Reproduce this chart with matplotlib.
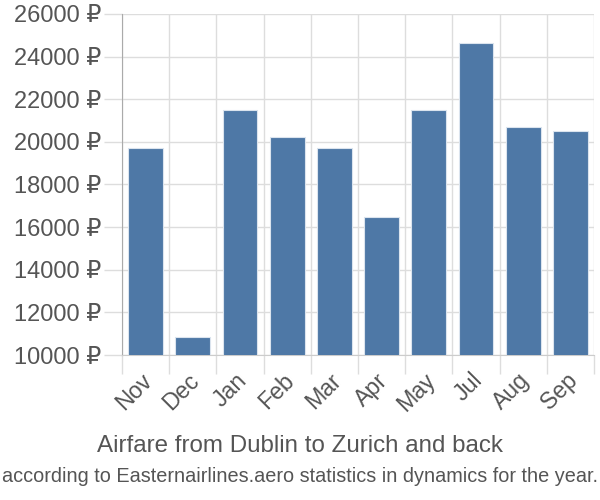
import matplotlib
matplotlib.use("Agg")
import matplotlib.pyplot as plt
import matplotlib.transforms as mtransforms
import numpy as np

months = ["Nov", "Dec", "Jan", "Feb", "Mar", "Apr", "May", "Jul", "Aug", "Sep"]
prices = [19720, 10850, 21500, 20230, 19720, 16480, 21500, 24650, 20700, 20520]
yticks = list(range(10000, 26001, 2000))
title = "Airfare from Dublin to Zurich and back"
subtitle = "according to Easternairlines.aero statistics in dynamics for the year."

plt.rcParams['font.family'] = ['Liberation Sans', 'DejaVu Sans']
txt = '#555555'
grid = '#dddddd'

fig = plt.figure(figsize=(6, 5), dpi=100)
ax = fig.add_axes([0.2033, 0.29, 0.7867, 0.682])

x = np.arange(len(months))
ax.bar(x, prices, width=0.74, bottom=0, color='#4e78a6', edgecolor='#dbe4ee',
       linewidth=0.8, zorder=3)
ax.set_ylim(10000, 26000)
ax.set_xlim(-0.5, len(months) - 0.5)

ax.set_yticks(yticks)
ax.set_yticklabels([f"{v} ₽" for v in yticks])
ax.set_xticks(x)
ax.set_xticklabels(months, rotation=45, ha='right', rotation_mode='anchor')
ax.set_xticks(np.arange(-0.5, len(months), 1), minor=True)

ax.tick_params(axis='y', length=13, color=grid, width=1, labelsize=17,
               labelcolor=txt, pad=2)
ax.tick_params(axis='x', which='major', length=0, labelsize=16.7,
               labelcolor=txt, pad=10)
ax.tick_params(axis='x', which='minor', length=14, color=grid, width=1)

shift = mtransforms.ScaledTranslation(-5 / 100, 0, fig.dpi_scale_trans)
for lbl in ax.get_xticklabels():
    lbl.set_transform(lbl.get_transform() + shift)

ax.grid(True, axis='y', color=grid, linewidth=1, zorder=0)
ax.grid(True, axis='x', which='minor', color=grid, linewidth=1, zorder=0)
ax.grid(False, axis='x', which='major')

for s in ['top', 'right']:
    ax.spines[s].set_visible(False)
ax.spines['left'].set_color('#aaaaaa')
ax.spines['bottom'].set_color('#cccccc')
ax.spines['left'].set_bounds(10000, 26000)

fig.text(0.5, 0.107, title, ha='center', va='center', fontsize=17.4, color=txt)
fig.text(0.5, 0.048, subtitle, ha='center', va='center', fontsize=14.3, color=txt)

fig.savefig("out.png", dpi=100)
